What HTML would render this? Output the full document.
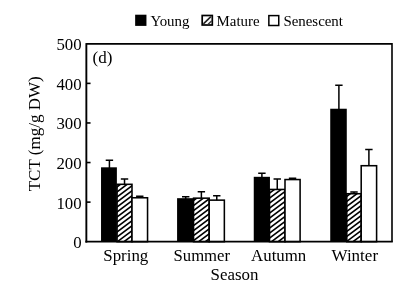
<!DOCTYPE html>
<html><head><meta charset="utf-8"><title>chart</title>
<style>
html,body{margin:0;padding:0;background:#fff;}
body{width:419px;height:287px;overflow:hidden;}
svg{display:block;will-change:transform;}
text{font-family:"Liberation Serif",serif;fill:#000;}
</style></head><body>
<svg width="419" height="287" viewBox="0 0 419 287">
<defs>
<pattern id="h" patternUnits="userSpaceOnUse" width="3.65" height="3.65" patternTransform="rotate(-39)">
<rect x="0" y="0" width="3.65" height="1.55" fill="#000"/>
</pattern>
</defs>
<rect width="419" height="287" fill="#fff"/>

<rect x="101.03" y="167.31" width="15.85" height="74.39" fill="#000"/>
<path d="M109.42 168.08V160.17M105.72 160.17H113.12" stroke="#000" stroke-width="1.5" fill="none"/>
<rect x="117.05" y="184.31" width="14.95" height="57.39" fill="#fff" stroke="#000" stroke-width="1.55"/>
<path d="M124.53 184.31V179.04M120.83 179.04H128.22" stroke="#000" stroke-width="1.5" fill="none"/>
<rect x="132.00" y="197.77" width="15.55" height="43.93" fill="#fff" stroke="#000" stroke-width="1.55"/>
<path d="M139.78 197.77V196.18M136.08 196.18H143.47" stroke="#000" stroke-width="1.5" fill="none"/>
<rect x="177.08" y="198.18" width="16.37" height="43.52" fill="#000"/>
<path d="M185.70 198.95V196.86M182.00 196.86H189.40" stroke="#000" stroke-width="1.5" fill="none"/>
<rect x="193.55" y="198.16" width="15.65" height="43.54" fill="#fff" stroke="#000" stroke-width="1.55"/>
<path d="M201.38 198.16V191.83M197.68 191.83H205.07" stroke="#000" stroke-width="1.5" fill="none"/>
<rect x="209.20" y="200.14" width="15.15" height="41.56" fill="#fff" stroke="#000" stroke-width="1.55"/>
<path d="M216.77 200.14V195.79M213.07 195.79H220.47" stroke="#000" stroke-width="1.5" fill="none"/>
<rect x="253.75" y="176.81" width="16.20" height="64.89" fill="#000"/>
<path d="M261.90 177.58V173.23M258.20 173.23H265.60" stroke="#000" stroke-width="1.5" fill="none"/>
<rect x="269.50" y="189.45" width="15.50" height="52.25" fill="#fff" stroke="#000" stroke-width="1.55"/>
<path d="M277.25 189.45V179.01M273.55 179.01H280.95" stroke="#000" stroke-width="1.5" fill="none"/>
<rect x="285.00" y="179.56" width="15.10" height="62.14" fill="#fff" stroke="#000" stroke-width="1.55"/>
<path d="M292.55 179.56V178.37M288.85 178.37H296.25" stroke="#000" stroke-width="1.5" fill="none"/>
<rect x="330.23" y="108.73" width="16.55" height="132.97" fill="#000"/>
<path d="M338.90 109.50V85.36M335.20 85.36H342.60" stroke="#000" stroke-width="1.5" fill="none"/>
<rect x="346.80" y="193.73" width="14.40" height="47.97" fill="#fff" stroke="#000" stroke-width="1.55"/>
<path d="M354.00 193.73V192.03M350.30 192.03H357.70" stroke="#000" stroke-width="1.5" fill="none"/>
<rect x="361.20" y="165.71" width="15.40" height="75.99" fill="#fff" stroke="#000" stroke-width="1.55"/>
<path d="M368.90 165.71V149.48M365.20 149.48H372.60" stroke="#000" stroke-width="1.5" fill="none"/>
<clipPath id="hc0"><rect x="117.05" y="184.31" width="14.95" height="57.39"/></clipPath>
<path d="M115.05 183.36L134.00 169.15M115.05 188.36L134.00 174.15M115.05 193.36L134.00 179.15M115.05 198.36L134.00 184.15M115.05 203.36L134.00 189.15M115.05 208.36L134.00 194.15M115.05 213.36L134.00 199.15M115.05 218.36L134.00 204.15M115.05 223.36L134.00 209.15M115.05 228.36L134.00 214.15M115.05 233.36L134.00 219.15M115.05 238.36L134.00 224.15M115.05 243.36L134.00 229.15M115.05 248.36L134.00 234.15M115.05 253.36L134.00 239.15M115.05 258.36L134.00 244.15" stroke="#000" stroke-width="1.6" fill="none" clip-path="url(#hc0)"/>
<clipPath id="hc1"><rect x="193.55" y="198.16" width="15.65" height="43.54"/></clipPath>
<path d="M191.55 196.99L211.20 182.25M191.55 201.99L211.20 187.25M191.55 206.99L211.20 192.25M191.55 211.99L211.20 197.25M191.55 216.99L211.20 202.25M191.55 221.99L211.20 207.25M191.55 226.99L211.20 212.25M191.55 231.99L211.20 217.25M191.55 236.99L211.20 222.25M191.55 241.99L211.20 227.25M191.55 246.99L211.20 232.25M191.55 251.99L211.20 237.25M191.55 256.99L211.20 242.25" stroke="#000" stroke-width="1.6" fill="none" clip-path="url(#hc1)"/>
<clipPath id="hc2"><rect x="269.50" y="189.45" width="15.50" height="52.25"/></clipPath>
<path d="M267.50 189.68L287.00 175.05M267.50 194.68L287.00 180.05M267.50 199.68L287.00 185.05M267.50 204.68L287.00 190.05M267.50 209.68L287.00 195.05M267.50 214.68L287.00 200.05M267.50 219.68L287.00 205.05M267.50 224.68L287.00 210.05M267.50 229.68L287.00 215.05M267.50 234.68L287.00 220.05M267.50 239.68L287.00 225.05M267.50 244.68L287.00 230.05M267.50 249.68L287.00 235.05M267.50 254.68L287.00 240.05" stroke="#000" stroke-width="1.6" fill="none" clip-path="url(#hc2)"/>
<clipPath id="hc3"><rect x="346.80" y="193.73" width="14.40" height="47.97"/></clipPath>
<path d="M344.80 192.80L363.20 179.00M344.80 197.80L363.20 184.00M344.80 202.80L363.20 189.00M344.80 207.80L363.20 194.00M344.80 212.80L363.20 199.00M344.80 217.80L363.20 204.00M344.80 222.80L363.20 209.00M344.80 227.80L363.20 214.00M344.80 232.80L363.20 219.00M344.80 237.80L363.20 224.00M344.80 242.80L363.20 229.00M344.80 247.80L363.20 234.00M344.80 252.80L363.20 239.00M344.80 257.80L363.20 244.00" stroke="#000" stroke-width="1.6" fill="none" clip-path="url(#hc3)"/>
<path d="M86.35 43.099999999999994V242.6" stroke="#000" stroke-width="1.9" fill="none"/>
<path d="M85.39999999999999 241.7H392.8" stroke="#000" stroke-width="1.8" fill="none"/>
<path d="M86.35 43.9H392.0V241.7" stroke="#000" stroke-width="1.6" fill="none"/>
<path d="M86.35 202.12h4.2" stroke="#000" stroke-width="1.6"/>
<path d="M86.35 162.54h4.2" stroke="#000" stroke-width="1.6"/>
<path d="M86.35 122.96h4.2" stroke="#000" stroke-width="1.6"/>
<path d="M86.35 83.38h4.2" stroke="#000" stroke-width="1.6"/>
<text x="81.6" y="248.20" font-size="16.8" text-anchor="end">0</text>
<text x="81.6" y="208.62" font-size="16.8" text-anchor="end">100</text>
<text x="81.6" y="169.04" font-size="16.8" text-anchor="end">200</text>
<text x="81.6" y="129.46" font-size="16.8" text-anchor="end">300</text>
<text x="81.6" y="89.88" font-size="16.8" text-anchor="end">400</text>
<text x="81.6" y="50.30" font-size="16.8" text-anchor="end">500</text>
<text x="125.8" y="260.6" font-size="16.9" text-anchor="middle">Spring</text>
<text x="201.8" y="260.6" font-size="16.7" text-anchor="middle">Summer</text>
<text x="278.7" y="260.6" font-size="16.85" text-anchor="middle">Autumn</text>
<text x="354.8" y="260.6" font-size="17.0" text-anchor="middle">Winter</text>
<text x="234.5" y="279.6" font-size="16.9" text-anchor="middle">Season</text>
<text x="92.5" y="62.7" font-size="17">(d)</text>
<text transform="translate(39.5,133.8) rotate(-90)" font-size="17.05" text-anchor="middle">TCT (mg/g DW)</text>
<rect x="135.15" y="14.7" width="11.3" height="11.2" fill="#000"/>
<text x="150.4" y="25.7" font-size="14.9">Young</text>
<rect x="202.2" y="15.5" width="10.1" height="9.5" fill="#fff" stroke="#000" stroke-width="1.7"/>
<path d="M203.4 23.8L210.9 16.7" stroke="#222" stroke-width="1.6" fill="none"/>
<path d="M207.6 24.8L211.8 20.8" stroke="#333" stroke-width="1.3" fill="none"/>
<text x="216.6" y="25.7" font-size="14.9">Mature</text>
<rect x="268.85" y="15.6" width="9.9" height="9.9" fill="#fff" stroke="#000" stroke-width="1.5"/>
<text x="283.4" y="25.7" font-size="14.9">Senescent</text>
</svg></body></html>
